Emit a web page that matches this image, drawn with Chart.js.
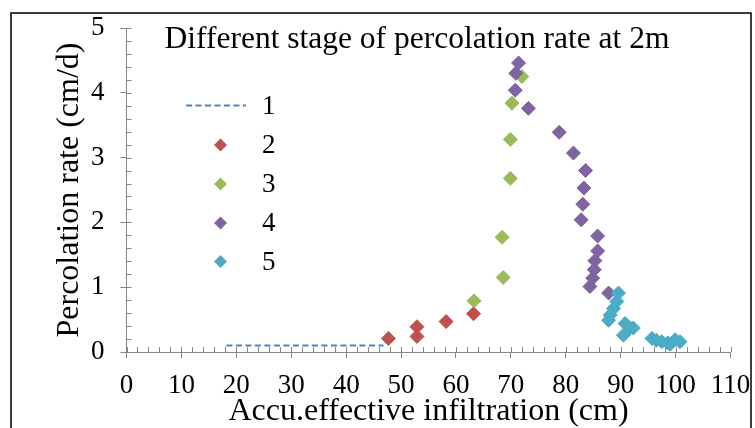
<!DOCTYPE html>
<html>
<head>
<meta charset="utf-8">
<script src="https://cdn.jsdelivr.net/npm/chart.js@4/dist/chart.umd.min.js"></script>
<style>
  html, body { margin: 0; padding: 0; background: #ffffff; }
  #wrap { width: 755px; height: 428px; position: relative; }
</style>
</head>
<body>
<div id="wrap"><canvas id="c" width="755" height="428"></canvas></div>
<script>
// Percolation rate at 2 m depth versus accumulated effective infiltration, by stage
const stageNames = ['1', '2', '3', '4', '5'];

const stage1X = [18.2, 46.8];
const stage1Y = [0.1, 0.1];

const stage2X = [47.7, 52.9, 52.9, 58.2, 63.2];
const stage2Y = [0.21, 0.39, 0.24, 0.47, 0.59];

const stage3X = [63.3, 68.6, 68.4, 69.9, 69.9, 70.2, 72.0];
const stage3Y = [0.79, 1.15, 1.77, 2.68, 3.28, 3.84, 4.25];

const stage4X = [71.4, 70.9, 70.8, 73.2, 78.8, 81.4, 83.6, 83.3, 83.1, 82.8, 85.8, 85.8, 85.3, 85.2, 84.9, 84.4, 87.8];
const stage4Y = [4.46, 4.30, 4.04, 3.76, 3.39, 3.07, 2.80, 2.53, 2.28, 2.04, 1.79, 1.56, 1.41, 1.27, 1.14, 1.01, 0.91];

const stage5X = [89.6, 89.3, 88.7, 88.1, 87.8, 90.8, 91.7, 92.3, 90.5, 95.7, 96.5, 97.5, 98.6, 99.0, 99.9, 100.8];
const stage5Y = [0.91, 0.78, 0.67, 0.57, 0.49, 0.44, 0.37, 0.37, 0.26, 0.21, 0.18, 0.16, 0.14, 0.12, 0.19, 0.16];

const xTicks = [0, 10, 20, 30, 40, 50, 60, 70, 80, 90, 100, 110];
const yTicks = [0, 1, 2, 3, 4, 5];

const chartTitle = 'Different stage of percolation rate at 2m';
const xTitle = 'Accu.effective infiltration (cm)';
const yTitle = 'Percolation rate (cm/d)';

const colors = ['#4F81BD', '#C0504D', '#9BBB59', '#8064A2', '#4BACC6'];
const SERIF = '"Liberation Serif", "Times New Roman", serif';
const AXIS_GREY = '#868686';

function pairs(xs, ys) { return xs.map((x, i) => ({ x: x, y: ys[i] })); }

function markerSet(idx, xs, ys, order) {
  return {
    label: stageNames[idx],
    data: pairs(xs, ys),
    showLine: false,
    pointStyle: 'rectRot',
    pointRadius: 7,
    pointBorderWidth: 1,
    backgroundColor: colors[idx],
    borderColor: colors[idx],
    order: order
  };
}

// keep the plot box fixed: no extra room for overhanging tick labels
function fixScale(size, prop) {
  return function (s) {
    s[prop] = size;
    s.paddingLeft = 0; s.paddingRight = 0; s.paddingTop = 0; s.paddingBottom = 0;
  };
}

// Minor / inner tick marks, chart frame, in-plot title and legend
const decorations = {
  id: 'decorations',
  beforeDatasetsDraw(chart) {
    const ctx = chart.ctx;
    const xs = chart.scales.x, ys = chart.scales.y;
    const y0 = ys.getPixelForValue(0);
    const x0 = xs.getPixelForValue(0);
    ctx.save();
    ctx.strokeStyle = AXIS_GREY;
    ctx.lineWidth = 1;
    ctx.beginPath();
    for (let v = 0; v <= 110; v += 2) {
      const px = Math.round(xs.getPixelForValue(v)) + 0.5;
      ctx.moveTo(px, y0);
      ctx.lineTo(px, y0 - 5);
    }
    for (let k = 0; k <= 25; k++) {
      const py = Math.round(ys.getPixelForValue(k * 0.2)) + 0.5;
      ctx.moveTo(x0, py);
      ctx.lineTo(x0 + 5, py);
    }
    ctx.stroke();
    ctx.restore();
  },
  afterDraw(chart) {
    const ctx = chart.ctx;
    ctx.save();
    // outer frame
    ctx.strokeStyle = '#000000';
    ctx.lineWidth = 1.5;
    ctx.strokeRect(11, 13, 740, 430);

    // title inside the plot
    ctx.fillStyle = '#000000';
    ctx.font = '31.5px ' + SERIF;
    ctx.textAlign = 'center';
    ctx.textBaseline = 'middle';
    ctx.fillText(chartTitle, 417, 40);

    // legend
    const lx = 220.5, textX = 262, rowY = [105.5, 145, 184, 223, 261.5];
    ctx.font = '27px ' + SERIF;
    ctx.textAlign = 'left';
    for (let i = 0; i < stageNames.length; i++) {
      const y = rowY[i];
      if (i === 0) {
        ctx.strokeStyle = colors[0];
        ctx.lineWidth = 2;
        ctx.setLineDash([6, 3.5]);
        ctx.beginPath();
        ctx.moveTo(186, y);
        ctx.lineTo(246, y);
        ctx.stroke();
        ctx.setLineDash([]);
      } else {
        ctx.fillStyle = colors[i];
        ctx.beginPath();
        ctx.moveTo(lx - 6.5, y);
        ctx.lineTo(lx, y - 6.5);
        ctx.lineTo(lx + 6.5, y);
        ctx.lineTo(lx, y + 6.5);
        ctx.closePath();
        ctx.fill();
      }
      ctx.fillStyle = '#000000';
      ctx.fillText(stageNames[i], textX, y + 1);
    }
    ctx.restore();
  }
};

new Chart(document.getElementById('c'), {
  type: 'scatter',
  data: {
    datasets: [
      {
        label: stageNames[0],
        data: pairs(stage1X, stage1Y),
        showLine: true,
        borderColor: colors[0],
        backgroundColor: colors[0],
        borderWidth: 2,
        borderDash: [6, 3.5],
        pointRadius: 0,
        fill: false,
        order: 5
      },
      markerSet(1, stage2X, stage2Y, 4),
      markerSet(2, stage3X, stage3Y, 3),
      markerSet(3, stage4X, stage4Y, 2),
      markerSet(4, stage5X, stage5Y, 1)
    ]
  },
  options: {
    responsive: false,
    animation: false,
    layout: { autoPadding: false, padding: { left: 0, right: 24.5, top: 28, bottom: 0 } },
    plugins: { legend: { display: false }, tooltip: { enabled: false }, title: { display: false } },
    scales: {
      x: {
        type: 'linear',
        min: 0, max: 110,
        afterFit: fixScale(76, 'height'),
        afterBuildTicks(s) { s.ticks = xTicks.map(v => ({ value: v })); },
        ticks: { color: '#000000', font: { family: SERIF, size: 27 }, padding: 12, maxRotation: 0 },
        grid: { drawOnChartArea: false, drawTicks: true, tickLength: 6, color: AXIS_GREY, lineWidth: 1 },
        border: { display: true, color: AXIS_GREY, width: 1 },
        title: { display: true, text: xTitle, color: '#000000', font: { family: SERIF, size: 32, lineHeight: 0.9 }, padding: { top: 0, bottom: 2.5 } }
      },
      y: {
        type: 'linear',
        min: 0, max: 5,
        afterFit: fixScale(126.5, 'width'),
        afterBuildTicks(s) { s.ticks = yTicks.map(v => ({ value: v })); },
        ticks: { color: '#000000', font: { family: SERIF, size: 27 }, padding: 16 },
        grid: { drawOnChartArea: false, drawTicks: true, tickLength: 6, color: AXIS_GREY, lineWidth: 1 },
        border: { display: true, color: AXIS_GREY, width: 1 },
        title: { display: true, text: yTitle, color: '#000000', font: { family: SERIF, size: 32, lineHeight: 1 }, padding: { top: 54, bottom: 0 } }
      }
    }
  },
  plugins: [decorations]
});
</script>
</body>
</html>
